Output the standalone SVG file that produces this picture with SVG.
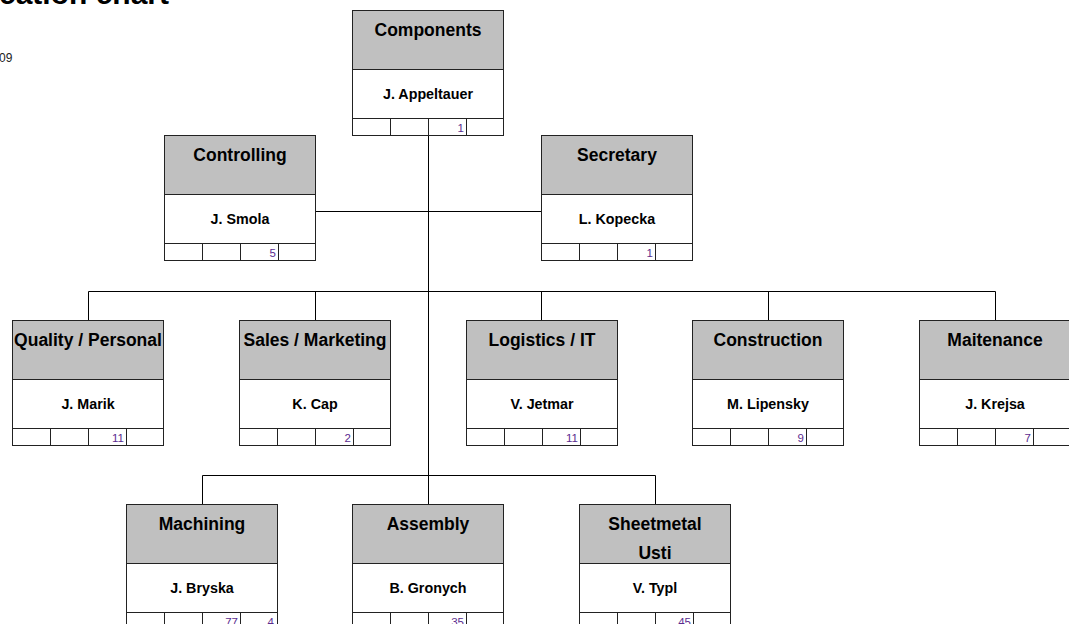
<svg xmlns="http://www.w3.org/2000/svg" width="1069" height="624" viewBox="0 0 1069 624">
<style>
text{font-family:"Liberation Sans",Arial,sans-serif}
.box{fill:#fff;stroke:#222;stroke-width:1}
.hdr{fill:#c0c0c0;stroke:#222;stroke-width:1}
.ln{stroke:#222;stroke-width:1;fill:none}
.t{font-size:17.5px;font-weight:bold;text-anchor:middle;fill:#000}
.n{font-size:14.3px;font-weight:bold;text-anchor:middle;fill:#000}
.c{font-size:11.5px;text-anchor:end;fill:#5b2c8f}
.conn{stroke:#000;stroke-width:1;fill:none}
</style>
<defs>
<g id="frame">
<rect class="box" x="0.5" y="0.5" width="151" height="125"/>
<rect class="hdr" x="0.5" y="0.5" width="151" height="59"/>
<line class="ln" x1="0.5" y1="108.5" x2="151.5" y2="108.5"/>
<line class="ln" x1="38.5" y1="108.5" x2="38.5" y2="125.5"/>
<line class="ln" x1="76.5" y1="108.5" x2="76.5" y2="125.5"/>
<line class="ln" x1="114.5" y1="108.5" x2="114.5" y2="125.5"/>
</g>
</defs>
<text x="-1" y="4" style="font-size:30px;font-weight:bold" fill="#000">cation chart</text>
<text x="-1" y="62" style="font-size:12px" fill="#222">09</text>
<g id="connectors">
<line class="conn" x1="428.5" y1="135" x2="428.5" y2="504"/>
<line class="conn" x1="315" y1="211.5" x2="541" y2="211.5"/>
<line class="conn" x1="88.5" y1="291.5" x2="995.5" y2="291.5"/>
<line class="conn" x1="88.5" y1="291.5" x2="88.5" y2="320"/>
<line class="conn" x1="315.5" y1="291.5" x2="315.5" y2="320"/>
<line class="conn" x1="541.5" y1="291.5" x2="541.5" y2="320"/>
<line class="conn" x1="768.5" y1="291.5" x2="768.5" y2="320"/>
<line class="conn" x1="995.5" y1="291.5" x2="995.5" y2="320"/>
<line class="conn" x1="202.5" y1="475.5" x2="655.5" y2="475.5"/>
<line class="conn" x1="202.5" y1="475.5" x2="202.5" y2="504"/>
<line class="conn" x1="655.5" y1="475.5" x2="655.5" y2="504"/>
</g>
<g id="components" transform="translate(352,10)">
<use href="#frame"/><text class="t" x="76" y="25.5">Components</text><text class="n" x="76" y="88.5">J. Appeltauer</text><text class="c" x="112" y="121.5">1</text>
</g>
<g id="controlling" transform="translate(164,135)">
<use href="#frame"/><text class="t" x="76" y="25.5">Controlling</text><text class="n" x="76" y="88.5">J. Smola</text><text class="c" x="112" y="121.5">5</text>
</g>
<g id="secretary" transform="translate(541,135)">
<use href="#frame"/><text class="t" x="76" y="25.5">Secretary</text><text class="n" x="76" y="88.5">L. Kopecka</text><text class="c" x="112" y="121.5">1</text>
</g>
<g id="quality" transform="translate(12,320)">
<use href="#frame"/><text class="t" x="76" y="25.5">Quality / Personal</text><text class="n" x="76" y="88.5">J. Marik</text><text class="c" x="112" y="121.5">11</text>
</g>
<g id="sales" transform="translate(239,320)">
<use href="#frame"/><text class="t" x="76" y="25.5">Sales / Marketing</text><text class="n" x="76" y="88.5">K. Cap</text><text class="c" x="112" y="121.5">2</text>
</g>
<g id="logistics" transform="translate(466,320)">
<use href="#frame"/><text class="t" x="76" y="25.5">Logistics / IT</text><text class="n" x="76" y="88.5">V. Jetmar</text><text class="c" x="112" y="121.5">11</text>
</g>
<g id="construction" transform="translate(692,320)">
<use href="#frame"/><text class="t" x="76" y="25.5">Construction</text><text class="n" x="76" y="88.5">M. Lipensky</text><text class="c" x="112" y="121.5">9</text>
</g>
<g id="maitenance" transform="translate(919,320)">
<use href="#frame"/><text class="t" x="76" y="25.5">Maitenance</text><text class="n" x="76" y="88.5">J. Krejsa</text><text class="c" x="112" y="121.5">7</text>
</g>
<g id="machining" transform="translate(126,504)">
<use href="#frame"/><text class="t" x="76" y="25.5">Machining</text><text class="n" x="76" y="88.5">J. Bryska</text><text class="c" x="112" y="121.5">77</text><text class="c" x="148" y="121.5">4</text>
</g>
<g id="assembly" transform="translate(352,504)">
<use href="#frame"/><text class="t" x="76" y="25.5">Assembly</text><text class="n" x="76" y="88.5">B. Gronych</text><text class="c" x="112" y="121.5">35</text>
</g>
<g id="sheetmetal" transform="translate(579,504)">
<use href="#frame"/><text class="t" x="76" y="25.5">Sheetmetal</text><text class="t" x="76" y="54.5">Usti</text><text class="n" x="76" y="88.5">V. Typl</text><text class="c" x="112" y="121.5">45</text>
</g>
</svg>
